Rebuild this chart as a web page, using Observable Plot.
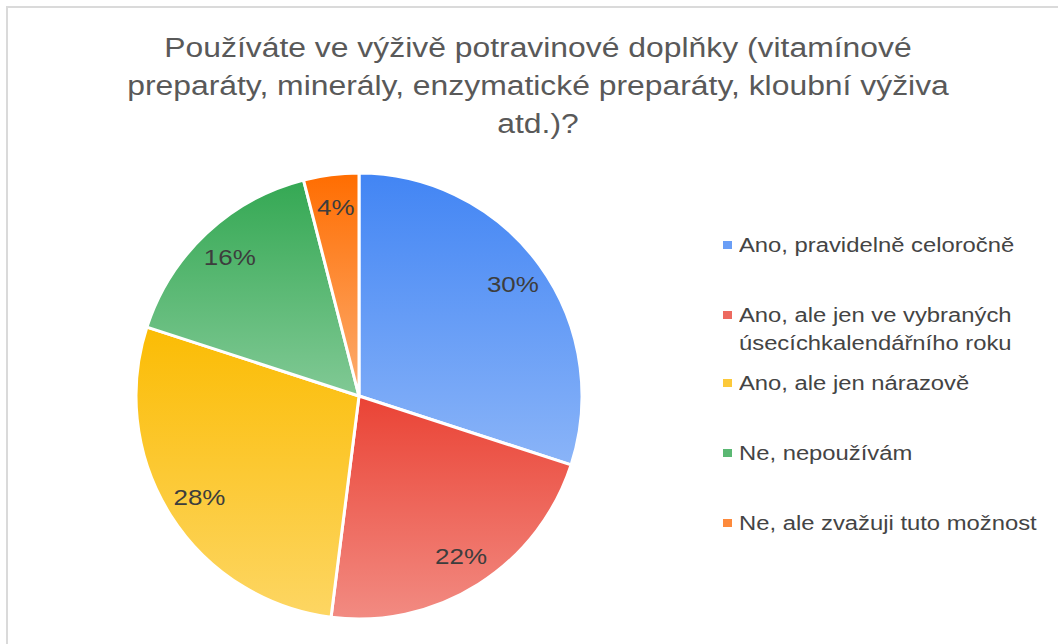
<!DOCTYPE html>
<html>
<head>
<meta charset="utf-8">
<script src="https://cdn.jsdelivr.net/npm/d3@7"></script>
<script src="https://cdn.jsdelivr.net/npm/@observablehq/plot@0.6"></script>
<style>
  html, body { margin: 0; padding: 0; background: #fff; }
  #frame { position: relative; width: 1058px; height: 644px; overflow: hidden; font-family: "Liberation Sans", Arial, sans-serif; }
  #border { position: absolute; left: 6px; top: 6px; width: 1100px; height: 700px; border-left: 2.5px solid #dadada; border-top: 2.5px solid #dadada; }
  #title { position: absolute; left: 0; top: 29px; width: 1076px; text-align: center; font-size: 27px; line-height: 38px; color: #595959; transform: scaleX(1.18); transform-origin: 538px 0; }
  #pie { position: absolute; left: 129px; top: 166px; }
  #legend { position: absolute; left: 723px; top: 0; }
  .item { position: absolute; left: 0; white-space: nowrap; font-size: 20px; line-height: 28px; color: #444; }
  .sw { position: absolute; left: 0; width: 9px; height: 8px; }
  .lab { position: absolute; left: 16px; transform: scaleX(1.19); transform-origin: 0 0; }
</style>
</head>
<body>
<div id="frame">
  <div id="border"></div>
  <div id="title"></div>
  <div id="pie"></div>
  <div id="legend"></div>
</div>
<script>
const titleLines = [
  "Používáte ve výživě potravinové doplňky (vitamínové",
  "preparáty, minerály, enzymatické preparáty, kloubní výživa",
  "atd.)?"
];
const categories = [
  "Ano, pravidelně celoročně",
  "Ano, ale jen ve vybraných úsecíchkalendářního roku",
  "Ano, ale jen nárazově",
  "Ne, nepoužívám",
  "Ne, ale zvažuji tuto možnost"
];
const legendLines = [
  ["Ano, pravidelně celoročně"],
  ["Ano, ale jen ve vybraných", "úsecíchkalendářního roku"],
  ["Ano, ale jen nárazově"],
  ["Ne, nepoužívám"],
  ["Ne, ale zvažuji tuto možnost"]
];
const values = [30, 22, 28, 16, 4];
const topColors = ["#4285f4", "#ea4335", "#fbbc04", "#34a853", "#ff6d01"];
const bottomColors = ["#8ab4f8", "#f28b82", "#fdd663", "#81c995", "#fcad70"];
const legendColors = ["#6a9ef6", "#ed6a60", "#fcc93a", "#5bb873", "#fd8a3c"];

// Title
document.getElementById("title").innerHTML = titleLines.map(l => `<div>${l}</div>`).join("");

// Data
const data = categories.map((c, i) => ({category: c, value: values[i], i}));
const arcs = d3.pie().sort(null).value(d => d.value)(data);
const labelR = 0.85;
const labels = arcs.map(a => {
  const m = (a.startAngle + a.endAngle) / 2;
  return {x: labelR * Math.sin(m), y: labelR * Math.cos(m), text: Math.round(a.data.value) + "%"};
});

const size = 460;
const ext = 230 / 223;

function pieMark(index, scales, values, dims, context) {
  const g = d3.create("svg:g");
  const defs = g.append("defs");
  arcs.forEach((a, i) => {
    const lg = defs.append("linearGradient").attr("id", "grad" + i)
      .attr("x1", 0).attr("y1", 0).attr("x2", 0).attr("y2", 1);
    lg.append("stop").attr("offset", "0%").attr("stop-color", topColors[i]);
    lg.append("stop").attr("offset", "100%").attr("stop-color", bottomColors[i]);
  });
  const cx = scales.x(0), cy = scales.y(0);
  const R = scales.x(1) - scales.x(0);
  const arc = d3.arc().innerRadius(0).outerRadius(R);
  g.append("g").attr("transform", `translate(${cx},${cy})`)
    .selectAll("path").data(arcs).join("path")
    .attr("d", arc)
    .attr("fill", (d, i) => `url(#grad${i})`)
    .attr("stroke", "#fff")
    .attr("stroke-width", 3)
    .attr("stroke-linejoin", "round");
  return g.node();
}

const chart = Plot.plot({
  width: size,
  height: size,
  margin: 0,
  x: {domain: [-ext, ext], axis: null},
  y: {domain: [-ext, ext], axis: null},
  style: {background: "transparent", overflow: "visible"},
  marks: [
    pieMark,
    Plot.text(labels, {
      x: "x", y: "y", text: "text",
      fontSize: 22, fill: "#3d3d3d",
      fontFamily: "Liberation Sans, Arial, sans-serif",
      textAnchor: "middle"
    })
  ]
});
// widen label glyphs horizontally to match the reference font
d3.select(chart).selectAll("g[aria-label=text] text").each(function() {
  const t = this.getAttribute("transform");
  if (t) {
    this.setAttribute("transform", t + " scale(1.18,1)");
  } else {
    const x = +this.getAttribute("x"), y = +this.getAttribute("y");
    this.setAttribute("transform", `translate(${x},${y}) scale(1.18,1) translate(${-x},${-y})`);
  }
});
document.getElementById("pie").appendChild(chart);

// Legend
const legendY = [245, 315, 383, 453, 523];
const legend = document.getElementById("legend");
legendLines.forEach((lines, i) => {
  const item = document.createElement("div");
  item.className = "item";
  item.style.top = (legendY[i] - 14) + "px";
  item.innerHTML = `<div class="sw" style="top:10px;background:${legendColors[i]}"></div>` +
    `<div class="lab">${lines.join("<br>")}</div>`;
  legend.appendChild(item);
});
</script>
</body>
</html>
